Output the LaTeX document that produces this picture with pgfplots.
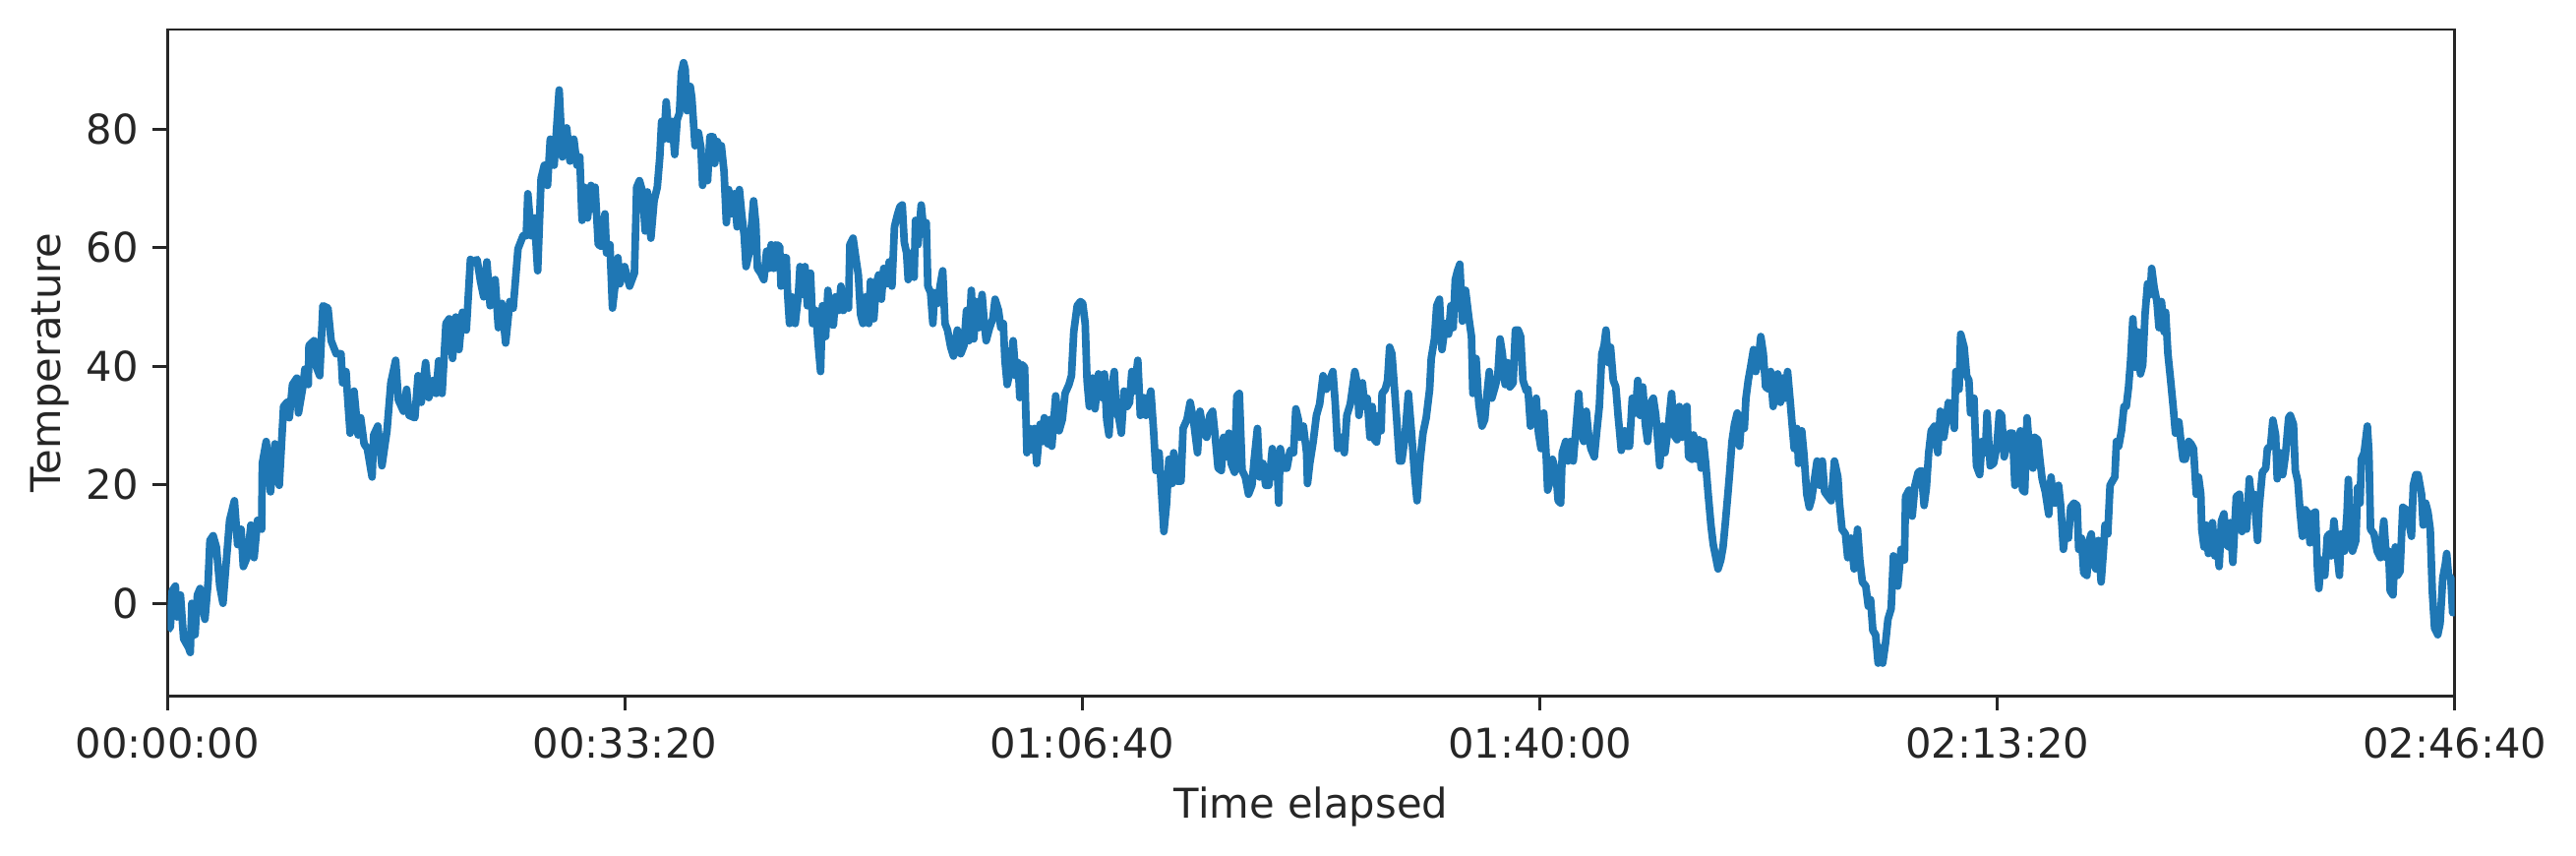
\documentclass[border=0pt]{standalone}
\usepackage{fontspec}
\setmainfont{DejaVu Sans}
\usepackage{pgfplots}
\pgfplotsset{compat=1.18}
\usepackage{pgfplotstable}
\definecolor{textgray}{HTML}{262626}
\definecolor{mplblue}{HTML}{1F77B4}

\pgfplotstableread{
t v
0 -4.5
12 -4.0
20 2.1
34 2.9
41 -2.3
56 1.4
70 -6.0
92 -7.5
99 -8.3
106 0.0
120 -5.3
130 1.4
142 2.5
163 -2.7
177 3.6
185 10.6
199 11.4
213 9.5
228 2.9
242 0.0
253 5.4
271 14.0
292 17.3
306 9.9
321 12.5
331 6.2
350 8.0
364 13.2
378 7.7
393 14.0
411 12.5
414 23.6
431 27.3
450 18.8
469 26.9
488 19.9
507 33.2
522 33.9
532 31.3
546 36.9
565 38.0
572 32.1
593 36.9
600 39.5
615 36.9
618 43.5
640 44.3
651 39.8
665 38.4
679 50.2
701 49.8
715 44.3
737 42.1
758 42.1
765 37.2
780 39.1
787 34.7
798 28.7
815 35.8
833 28.4
844 31.3
859 26.9
873 26.1
894 21.3
901 28.4
919 29.9
937 23.2
959 29.1
976 37.2
997 41.0
1009 34.3
1031 32.4
1045 36.1
1056 31.7
1081 31.3
1095 38.4
1109 33.9
1128 40.6
1142 34.7
1160 37.6
1174 35.4
1185 40.9
1200 35.4
1217 47.2
1231 48.0
1246 41.3
1260 48.3
1274 42.8
1289 49.1
1306 46.1
1324 58.0
1339 57.6
1353 58.0
1368 54.3
1382 51.7
1396 57.6
1410 50.2
1432 54.6
1446 46.5
1461 50.6
1478 43.9
1496 50.9
1511 49.8
1532 59.8
1554 62.0
1568 62.0
1575 69.1
1590 62.0
1604 65.0
1618 56.1
1633 71.7
1647 73.9
1661 70.5
1673 78.3
1690 73.9
1712 86.6
1726 75.3
1745 80.2
1759 74.6
1776 78.3
1790 73.9
1802 75.3
1812 64.6
1822 70.2
1836 65.0
1851 70.5
1859 66.5
1869 70.2
1883 60.5
1898 60.2
1912 65.7
1919 59.1
1934 60.5
1945 49.8
1955 53.2
1969 58.3
1977 53.9
1998 56.8
2020 53.5
2041 55.7
2051 70.2
2063 71.3
2077 69.4
2088 62.8
2098 69.4
2113 61.6
2127 67.9
2141 70.2
2152 75.3
2160 81.3
2170 78.3
2180 84.6
2192 78.3
2206 81.3
2217 75.7
2228 81.6
2238 82.7
2246 89.4
2256 91.2
2263 90.1
2271 83.1
2285 87.2
2292 85.3
2306 77.2
2321 79.4
2332 76.8
2339 70.5
2349 73.1
2361 71.3
2371 78.7
2385 78.7
2392 74.2
2404 77.9
2414 76.1
2421 77.2
2433 72.8
2443 64.2
2453 69.8
2464 65.7
2478 69.1
2490 63.5
2500 69.8
2510 65.7
2521 62.0
2529 56.8
2543 59.1
2562 67.9
2572 63.9
2579 56.5
2593 55.7
2607 54.6
2619 59.4
2629 56.5
2639 60.5
2650 56.5
2662 60.5
2676 60.2
2682 53.5
2693 58.3
2705 58.3
2711 52.1
2719 47.2
2729 51.7
2744 47.2
2758 52.1
2765 56.8
2777 52.1
2787 56.8
2797 50.2
2811 55.7
2820 47.2
2834 49.4
2844 43.9
2855 39.1
2863 50.2
2877 45.0
2887 52.8
2897 47.2
2911 46.9
2920 51.7
2934 49.4
2944 53.5
2954 49.4
2969 50.6
2977 49.8
2983 60.5
2997 61.6
3009 58.3
3020 55.4
3030 48.7
3040 47.2
3052 51.7
3066 47.2
3073 54.3
3088 48.0
3098 53.9
3109 55.4
3121 51.3
3131 56.5
3145 53.9
3155 57.6
3167 53.5
3178 63.5
3192 65.7
3202 66.9
3212 67.2
3221 60.9
3231 59.1
3238 54.6
3252 59.1
3264 55.0
3270 64.6
3281 60.5
3295 67.2
3307 62.4
3317 64.2
3324 53.5
3336 52.4
3346 47.2
3353 52.4
3367 50.6
3379 53.9
3389 56.1
3399 47.2
3410 46.1
3424 43.2
3436 41.7
3453 46.1
3468 42.1
3482 43.5
3493 49.4
3504 44.3
3514 52.8
3525 44.6
3536 50.9
3547 46.5
3561 52.1
3571 47.2
3579 44.3
3594 46.5
3608 48.0
3618 51.3
3633 49.4
3643 46.5
3654 47.2
3661 41.0
3671 36.9
3683 39.1
3697 44.3
3708 38.4
3719 40.6
3726 34.7
3737 40.2
3747 39.8
3757 25.4
3769 29.5
3783 25.8
3790 29.5
3800 23.6
3815 30.2
3826 27.3
3833 31.3
3848 26.9
3858 31.0
3866 26.5
3883 35.0
3898 29.1
3912 31.0
3924 35.4
3941 36.9
3952 38.4
3962 45.8
3977 50.2
3991 50.9
4001 50.6
4012 47.2
4020 37.6
4030 33.2
4044 38.0
4055 32.8
4070 38.7
4084 34.7
4096 38.7
4106 31.0
4116 28.4
4127 36.1
4139 39.1
4149 32.1
4159 31.3
4170 28.7
4182 35.8
4196 33.2
4206 33.9
4216 39.1
4227 35.8
4242 41.0
4253 31.7
4268 34.7
4278 31.7
4288 33.9
4299 35.8
4311 29.1
4321 22.4
4335 25.4
4342 21.3
4356 12.1
4368 16.9
4378 24.3
4392 20.2
4399 25.4
4414 20.6
4431 20.6
4440 29.5
4457 31.0
4471 33.9
4485 31.0
4503 25.4
4514 32.4
4528 29.1
4543 28.0
4557 31.7
4569 32.4
4579 28.7
4593 22.8
4607 22.4
4617 28.0
4629 24.7
4640 28.7
4650 23.6
4665 22.1
4675 35.0
4686 35.4
4698 22.4
4712 21.3
4726 18.4
4741 19.9
4751 24.3
4765 29.5
4775 21.3
4789 23.6
4801 19.9
4815 19.9
4830 26.1
4841 21.3
4851 24.0
4858 16.9
4865 26.1
4880 22.8
4894 22.8
4908 25.8
4923 25.4
4933 32.8
4944 31.0
4951 28.0
4966 29.9
4980 25.4
4984 20.2
4994 23.6
5009 27.3
5023 31.7
5037 33.6
5052 38.4
5066 36.1
5081 37.6
5095 39.1
5105 33.9
5116 26.1
5131 28.0
5145 25.4
5156 31.7
5171 33.6
5191 39.1
5202 36.9
5209 31.7
5224 37.2
5234 33.2
5245 34.6
5257 28.0
5267 33.2
5277 27.6
5286 27.2
5296 31.7
5306 29.1
5310 35.4
5324 36.1
5334 37.6
5343 43.2
5353 42.1
5363 36.9
5374 31.0
5386 24.0
5396 24.0
5410 28.0
5425 35.4
5439 28.7
5453 21.3
5463 17.3
5475 23.6
5489 28.7
5503 31.3
5518 36.1
5525 41.3
5539 44.6
5549 50.2
5561 51.3
5572 42.8
5587 47.2
5601 45.4
5611 50.2
5621 46.5
5630 54.6
5640 56.1
5650 57.2
5661 47.6
5675 52.8
5690 48.0
5701 45.0
5707 35.4
5721 41.3
5733 33.6
5747 29.9
5759 31.0
5769 35.4
5779 39.1
5790 34.6
5804 36.5
5816 38.4
5826 44.6
5836 42.1
5848 36.9
5859 40.6
5869 36.5
5883 37.2
5893 46.1
5905 46.1
5916 45.0
5926 37.6
5941 35.8
5948 36.1
5959 29.9
5974 31.7
5984 34.6
5994 28.7
6005 26.1
6017 32.1
6027 25.4
6034 19.1
6048 21.0
6055 24.3
6070 22.1
6080 17.3
6091 16.9
6098 25.4
6113 27.3
6123 24.0
6134 27.3
6146 24.0
6160 30.6
6170 35.4
6180 28.7
6192 27.3
6203 32.4
6213 28.4
6223 26.1
6238 24.7
6249 29.1
6260 33.2
6271 42.1
6281 43.5
6289 46.1
6299 40.6
6309 43.2
6321 37.6
6332 36.5
6342 31.7
6356 25.8
6371 29.1
6381 26.5
6392 26.5
6404 34.6
6418 32.1
6428 37.6
6438 31.7
6450 36.5
6461 30.2
6471 27.3
6485 33.9
6496 34.6
6507 31.7
6524 23.2
6536 29.9
6547 25.4
6561 29.5
6576 35.4
6586 28.4
6600 27.6
6610 33.2
6622 28.0
6633 32.8
6643 33.2
6650 24.7
6665 24.3
6672 28.4
6686 24.3
6696 27.6
6705 22.8
6715 27.3
6725 23.6
6736 18.4
6748 13.2
6758 9.9
6768 8.0
6779 5.8
6791 7.3
6801 9.5
6811 13.6
6822 18.4
6830 22.1
6840 27.3
6851 30.2
6863 32.1
6873 26.5
6883 31.7
6894 29.5
6901 34.6
6911 37.6
6923 40.2
6934 42.8
6944 39.1
6954 40.6
6966 45.0
6977 42.1
6987 36.5
7002 36.1
7009 39.1
7020 33.2
7030 36.9
7040 38.7
7052 33.9
7063 38.0
7073 34.6
7083 39.1
7095 33.9
7102 30.6
7112 26.1
7124 29.5
7131 23.6
7145 29.1
7155 25.0
7167 18.4
7178 16.2
7188 17.6
7202 21.3
7212 24.0
7224 19.9
7235 24.0
7245 18.8
7260 18.0
7274 17.3
7288 24.0
7303 21.3
7310 16.9
7321 12.5
7336 11.7
7346 7.7
7360 11.0
7374 5.8
7389 12.5
7399 7.3
7410 3.6
7425 2.9
7436 -0.5
7446 0.6
7456 -4.6
7468 -5.3
7479 -10.1
7489 -7.5
7499 -10.1
7511 -6.8
7522 -2.7
7536 -0.9
7546 8.0
7557 6.6
7565 2.9
7579 9.1
7594 7.3
7599 18.0
7614 19.1
7628 14.7
7640 19.9
7654 22.1
7668 22.4
7680 16.5
7690 19.5
7700 25.4
7711 29.1
7726 29.9
7740 25.4
7751 32.4
7766 28.0
7776 30.6
7786 33.9
7800 33.5
7812 29.5
7819 39.1
7833 36.1
7840 45.4
7855 43.2
7866 38.4
7876 37.6
7883 32.1
7898 34.6
7909 23.2
7923 21.7
7933 27.3
7948 25.4
7955 32.1
7969 23.2
7984 23.6
7998 26.5
8009 32.1
8019 31.7
8030 24.7
8041 26.5
8055 28.7
8067 28.7
8077 19.9
8091 26.5
8101 29.1
8110 19.1
8120 18.8
8130 31.3
8144 24.3
8156 22.8
8163 28.0
8177 27.6
8187 24.0
8196 21.0
8210 18.8
8225 15.0
8235 21.3
8245 17.6
8253 16.9
8268 19.9
8278 16.2
8289 9.1
8299 12.5
8311 11.0
8321 16.2
8335 16.9
8349 16.5
8356 9.1
8368 11.0
8378 5.1
8392 4.7
8399 10.2
8411 11.7
8421 6.6
8431 5.8
8442 10.6
8454 3.6
8464 8.8
8471 13.2
8483 11.7
8493 19.9
8503 20.6
8514 21.3
8521 27.3
8531 26.5
8543 29.1
8554 33.2
8564 33.2
8574 36.5
8583 41.0
8593 48.0
8603 39.8
8614 45.8
8626 38.7
8636 40.2
8646 48.7
8657 53.9
8669 52.1
8675 56.5
8686 53.2
8698 50.9
8707 46.5
8718 50.9
8729 45.8
8736 49.1
8746 42.1
8758 37.6
8769 33.2
8779 28.7
8794 30.6
8804 26.9
8812 24.3
8822 24.3
8837 27.3
8847 26.9
8858 26.1
8870 18.4
8880 21.3
8890 18.4
8894 12.5
8904 9.5
8913 13.2
8923 8.4
8933 9.5
8941 13.6
8951 8.0
8961 10.6
8970 6.2
8980 13.9
8991 15.1
9002 9.9
9013 9.5
9019 13.6
9030 6.9
9045 18.0
9059 18.4
9070 12.1
9080 16.2
9090 12.5
9102 21.0
9113 16.9
9123 18.4
9138 10.6
9145 16.2
9159 22.1
9174 22.8
9181 26.1
9195 26.5
9205 30.9
9217 28.4
9224 21.0
9238 25.4
9248 21.7
9260 25.0
9274 31.3
9281 31.7
9295 30.2
9303 22.4
9314 20.6
9324 15.4
9334 11.3
9346 15.8
9360 15.1
9367 10.2
9379 15.1
9391 15.4
9400 5.8
9406 2.5
9417 7.3
9432 4.7
9443 11.3
9453 11.7
9460 8.0
9472 13.9
9482 9.9
9496 4.7
9503 11.7
9518 8.8
9529 15.1
9535 20.9
9543 11.7
9553 8.8
9568 10.6
9575 19.5
9586 16.9
9592 24.3
9604 25.4
9618 29.9
9625 25.4
9632 12.5
9647 11.7
9661 8.8
9675 7.7
9690 13.9
9701 7.7
9711 8.8
9718 2.1
9730 1.4
9740 9.5
9750 4.7
9761 5.4
9773 16.2
9787 15.8
9797 14.3
9811 11.3
9819 19.9
9830 21.7
9840 21.7
9855 18.4
9862 13.2
9873 16.9
9883 15.4
9893 12.5
9902 2.1
9912 -4.2
9926 -5.3
9936 -3.4
9948 4.3
9959 6.6
9965 8.4
9973 4.7
9983 4.3
9991 -1.6
10000 -1.5
}\datatable

\begin{document}
\begin{tikzpicture}
\path[use as bounding box] (-40.9pt,-38.9pt) rectangle (587.6pt,169.7pt);
\begin{axis}[
  at={(0pt,0pt)}, anchor=south west,
  scale only axis, width=558pt, height=162.5pt,
  xmin=0, xmax=10000, ymin=-15.6, ymax=96.8,
  xtick={0,2000,4000,6000,8000,10000},
  xticklabels={00:00:00,00:33:20,01:06:40,01:40:00,02:13:20,02:46:40},
  ytick={0,20,40,60,80},
  scaled x ticks=false,
  xtick pos=lower, ytick pos=left, tick align=outside,
  major tick length=3.6pt,
  every tick/.style={draw=textgray, line width=0.65pt},
  axis line style={draw=textgray, line width=0.65pt},
  ticklabel style={font=\fontsize{10}{12}\selectfont, text=textgray},
  /pgf/number format/assume math mode=true,
  xticklabel style={anchor=base, yshift=-11.7pt},
  xlabel={Time elapsed}, ylabel={Temperature},
  label style={font=\fontsize{10}{12}\selectfont, text=textgray},
  xlabel style={at={(axis description cs:0.5,-0.1834)}, anchor=base},
  ylabel style={at={(axis description cs:-0.0514,0.5)}, anchor=center},
]
\addplot[mplblue, line width=1.85pt, line join=round, mark=none] table[x=t, y=v] {\datatable};
\end{axis}
\end{tikzpicture}
\end{document}
